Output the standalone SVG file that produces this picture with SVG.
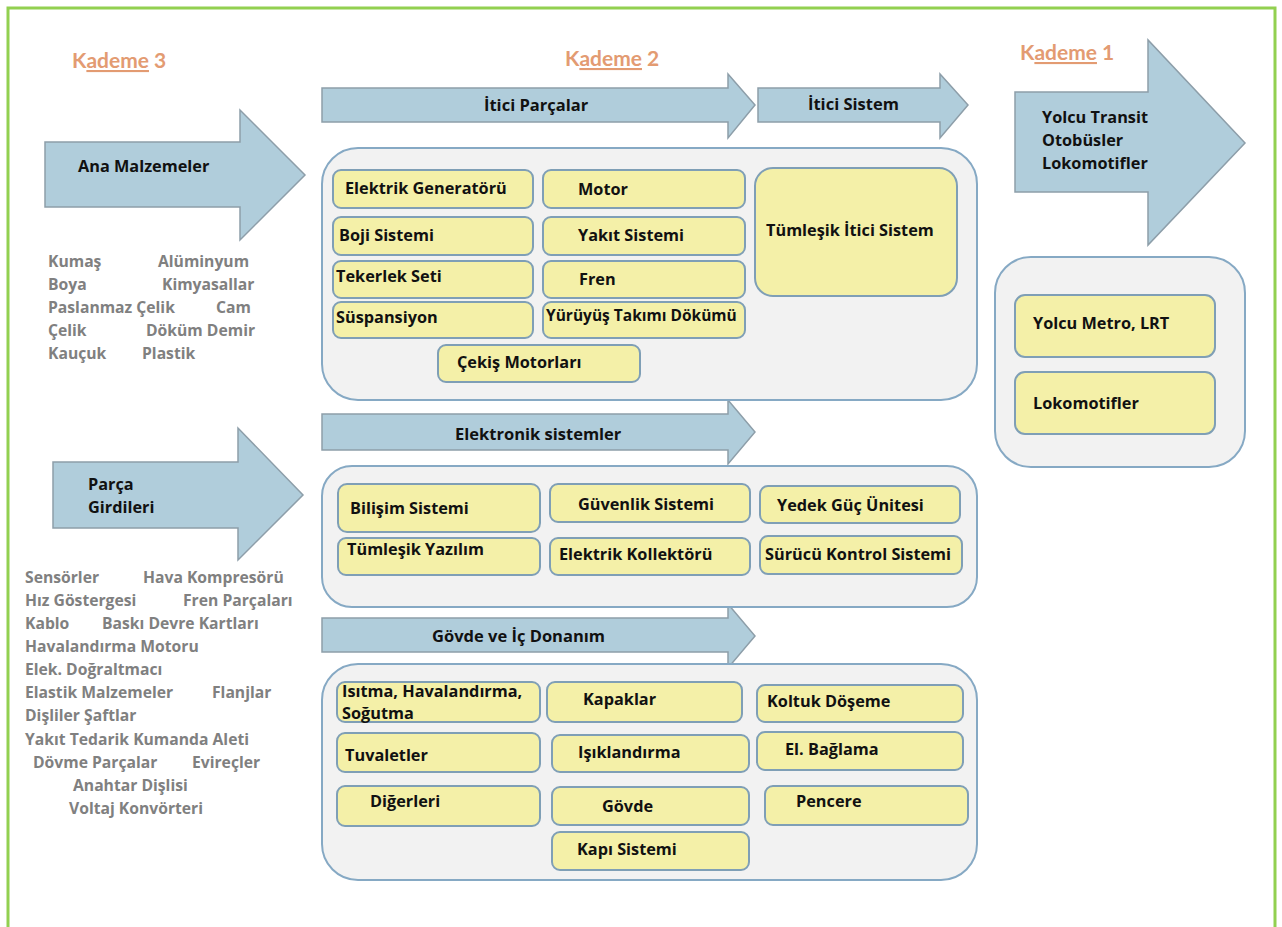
<svg xmlns="http://www.w3.org/2000/svg" width="1282" height="927" viewBox="0 0 1282 927">
<defs>
<style>
.frame{fill:none;stroke:#92d050;stroke-width:3}
.arr{fill:#b0cddb;stroke:#8d9ea9;stroke-width:1.5}
.cont{fill:#f2f2f2;stroke:#86a9c4;stroke-width:2}
.box{fill:#f4f0a8;stroke:#7f9fb6;stroke-width:2}
.lbl{font-family:"Open Sans",Lato,sans-serif;font-weight:bold;font-size:16.3px;fill:#111}
.alb{font-family:"Open Sans",Lato,sans-serif;font-weight:bold;font-size:16.5px;fill:#111}
.lst{font-family:"Open Sans",Lato,sans-serif;font-weight:bold;font-size:15.7px;fill:#808080}
.kad{font-family:Lato,"Open Sans",sans-serif;font-weight:bold;font-size:21px;fill:#e39b72}
.ul{text-decoration:underline}
</style>
</defs>
<rect width="1282" height="927" fill="#ffffff"/>
<path class="frame" d="M8,927 V8 H1275 V927"/>

<g id="headers">
<text class="kad" x="72" y="68">K<tspan class="ul">ademe</tspan> 3</text>
<text class="kad" x="565" y="66">K<tspan class="ul">ademe</tspan> 2</text>
<text class="kad" x="1020" y="60">K<tspan class="ul">ademe</tspan> 1</text>
</g>

<g id="connectors">
<g id="arrow-itici-parcalar">
<polygon class="arr" points="322,88 728,88 728,74 755,105 728,138 728,122 322,122"/>
<text class="alb" x="484" y="111">İtici Parçalar</text>
</g>
<g id="arrow-itici-sistem">
<polygon class="arr" points="758,88 940,88 940,74 968,105 940,138 940,122 758,122"/>
<text class="alb" x="808" y="110">İtici Sistem</text>
</g>
<g id="arrow-kademe1">
<polygon class="arr" points="1015,92 1148,92 1148,40 1245,143 1148,245 1148,192 1015,192"/>
<text class="lbl" x="1042" y="123">Yolcu  Transit</text>
<text class="lbl" x="1042" y="146">Otobüsler</text>
<text class="lbl" x="1042" y="169">Lokomotifler</text>
</g>
<g id="arrow-ana-malzemeler">
<polygon class="arr" points="45,142 240,142 240,110 305,175 240,240 240,207 45,207"/>
<text class="lbl" x="78" y="172">Ana Malzemeler</text>
</g>
<g id="arrow-parca-girdileri">
<polygon class="arr" points="53,462 238,462 238,428 303,495 238,560 238,528 53,528"/>
<text class="lbl" x="88" y="490">Parça</text>
<text class="lbl" x="88" y="513">Girdileri</text>
</g>
<g id="arrow-elektronik">
<polygon class="arr" points="322,414 728,414 728,400 755,432 728,464 728,450 322,450"/>
<text class="alb" x="455" y="440">Elektronik sistemler</text>
</g>
<g id="arrow-govde">
<polygon class="arr" points="322,618 728,618 728,604 755,636 728,668 728,652 322,652"/>
<text class="alb" x="432" y="642">Gövde ve İç Donanım</text>
</g>
</g>

<g id="list-ana-malzemeler">
<text class="lst" x="48" y="267">Kumaş</text>
<text class="lst" x="158" y="267">Alüminyum</text>
<text class="lst" x="48" y="290">Boya</text>
<text class="lst" x="162" y="290">Kimyasallar</text>
<text class="lst" x="48" y="313">Paslanmaz Çelik</text>
<text class="lst" x="216" y="313">Cam</text>
<text class="lst" x="48" y="336">Çelik</text>
<text class="lst" x="146" y="336">Döküm Demir</text>
<text class="lst" x="48" y="359">Kauçuk</text>
<text class="lst" x="142" y="359">Plastik</text>
</g>

<g id="list-parca-girdileri">
<text class="lst" x="25" y="583">Sensörler</text>
<text class="lst" x="143" y="583">Hava Kompresörü</text>
<text class="lst" x="25" y="606">Hız Göstergesi</text>
<text class="lst" x="183" y="606">Fren Parçaları</text>
<text class="lst" x="25" y="629">Kablo</text>
<text class="lst" x="102" y="629">Baskı Devre Kartları</text>
<text class="lst" x="25" y="652">Havalandırma Motoru</text>
<text class="lst" x="25" y="675">Elek. Doğraltmacı</text>
<text class="lst" x="25" y="698">Elastik Malzemeler</text>
<text class="lst" x="212" y="698">Flanjlar</text>
<text class="lst" x="25" y="721">Dişliler Şaftlar</text>
<text class="lst" x="25" y="745">Yakıt Tedarik Kumanda Aleti</text>
<text class="lst" x="33" y="768">Dövme Parçalar</text>
<text class="lst" x="192" y="768">Evireçler</text>
<text class="lst" x="73" y="791">Anahtar Dişlisi</text>
<text class="lst" x="69" y="814">Voltaj Konvörteri</text>
</g>

<g id="group-itici">
<rect class="cont" x="322" y="148" width="655" height="252" rx="36"/>
<g id="n-elektrik-generatoru"><rect class="box" x="333" y="170" width="200" height="38" rx="8"/><text class="lbl" x="345" y="194">Elektrik Generatörü</text></g>
<g id="n-motor"><rect class="box" x="543" y="170" width="202" height="38" rx="8"/><text class="lbl" x="578" y="195">Motor</text></g>
<g id="n-boji"><rect class="box" x="333" y="217" width="200" height="38" rx="8"/><text class="lbl" x="339" y="241">Boji Sistemi</text></g>
<g id="n-yakit"><rect class="box" x="543" y="217" width="202" height="38" rx="8"/><text class="lbl" x="578" y="241">Yakıt Sistemi</text></g>
<g id="n-tekerlek"><rect class="box" x="333" y="261" width="200" height="37" rx="8"/><text class="lbl" x="336" y="282">Tekerlek Seti</text></g>
<g id="n-fren"><rect class="box" x="543" y="261" width="202" height="37" rx="8"/><text class="lbl" x="579" y="285">Fren</text></g>
<g id="n-suspansiyon"><rect class="box" x="333" y="302" width="200" height="36" rx="8"/><text class="lbl" x="336" y="323">Süspansiyon</text></g>
<g id="n-yuruyus"><rect class="box" x="543" y="302" width="202" height="36" rx="8"/><text class="lbl" x="546" y="321" style="font-size:15.5px">Yürüyüş Takımı Dökümü</text></g>
<g id="n-cekis"><rect class="box" x="438" y="345" width="202" height="37" rx="8"/><text class="lbl" x="457" y="368">Çekiş Motorları</text></g>
<g id="n-tumlesik-itici"><rect class="box" x="755" y="168" width="202" height="128" rx="18"/><text class="lbl" x="766" y="236">Tümleşik İtici Sistem</text></g>
</g>

<g id="group-elektronik">
<rect class="cont" x="322" y="466" width="655" height="141" rx="30"/>
<g id="n-bilisim"><rect class="box" x="338" y="484" width="202" height="48" rx="9"/><text class="lbl" x="350" y="514">Bilişim Sistemi</text></g>
<g id="n-guvenlik"><rect class="box" x="550" y="484" width="200" height="38" rx="8"/><text class="lbl" x="578" y="510">Güvenlik Sistemi</text></g>
<g id="n-yedek-guc"><rect class="box" x="760" y="486" width="200" height="37" rx="8"/><text class="lbl" x="777" y="511">Yedek Güç Ünitesi</text></g>
<g id="n-tumlesik-yazilim"><rect class="box" x="338" y="538" width="202" height="37" rx="8"/><text class="lbl" x="347" y="555">Tümleşik Yazılım</text></g>
<g id="n-kollektor"><rect class="box" x="550" y="538" width="200" height="37" rx="8"/><text class="lbl" x="559" y="560">Elektrik Kollektörü</text></g>
<g id="n-surucu"><rect class="box" x="760" y="536" width="202" height="38" rx="8"/><text class="lbl" x="765" y="560">Sürücü Kontrol Sistemi</text></g>
</g>

<g id="group-govde">
<rect class="cont" x="322" y="664" width="655" height="216" rx="36"/>
<g id="n-isitma"><rect class="box" x="337" y="682" width="203" height="40" rx="8"/><text class="lbl" x="342" y="697">Isıtma, Havalandırma,</text><text class="lbl" x="342" y="719">Soğutma</text></g>
<g id="n-kapaklar"><rect class="box" x="547" y="682" width="195" height="40" rx="8"/><text class="lbl" x="583" y="705">Kapaklar</text></g>
<g id="n-koltuk"><rect class="box" x="757" y="685" width="206" height="37" rx="8"/><text class="lbl" x="767" y="707">Koltuk Döşeme</text></g>
<g id="n-tuvaletler"><rect class="box" x="337" y="733" width="203" height="39" rx="8"/><text class="lbl" x="345" y="761">Tuvaletler</text></g>
<g id="n-isiklandirma"><rect class="box" x="552" y="735" width="197" height="37" rx="8"/><text class="lbl" x="578" y="758">Işıklandırma</text></g>
<g id="n-el-baglama"><rect class="box" x="757" y="732" width="206" height="38" rx="8"/><text class="lbl" x="785" y="755">El. Bağlama</text></g>
<g id="n-digerleri"><rect class="box" x="337" y="786" width="203" height="40" rx="8"/><text class="lbl" x="370" y="807">Diğerleri</text></g>
<g id="n-govde"><rect class="box" x="552" y="787" width="197" height="38" rx="8"/><text class="lbl" x="602" y="812">Gövde</text></g>
<g id="n-pencere"><rect class="box" x="765" y="786" width="203" height="39" rx="8"/><text class="lbl" x="796" y="807">Pencere</text></g>
<g id="n-kapi"><rect class="box" x="552" y="832" width="197" height="38" rx="8"/><text class="lbl" x="577" y="855">Kapı Sistemi</text></g>
</g>

<g id="group-kademe1">
<rect class="cont" x="995" y="257" width="250" height="210" rx="36"/>
<g id="n-yolcu-metro"><rect class="box" x="1015" y="295" width="200" height="62" rx="10"/><text class="lbl" x="1033" y="329">Yolcu  Metro, LRT</text></g>
<g id="n-lokomotifler"><rect class="box" x="1015" y="372" width="200" height="62" rx="10"/><text class="lbl" x="1033" y="409">Lokomotifler</text></g>
</g>
</svg>
